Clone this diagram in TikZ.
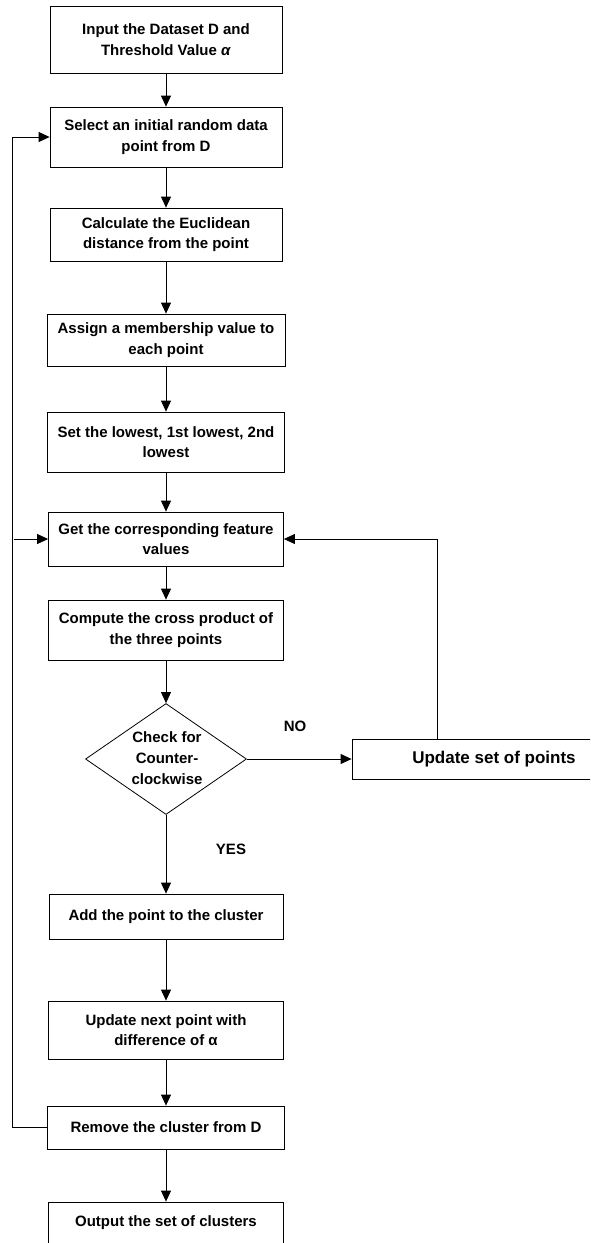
\documentclass[tikz,border=0pt]{standalone}
\usepackage{fontspec}
\setmainfont{Liberation Sans}
\usetikzlibrary{arrows.meta,shapes.geometric}
\begin{document}
\begin{tikzpicture}[x=1pt,y=-1pt,
  box/.style={draw, line width=0.8pt, align=center, inner sep=0pt,
    font=\bfseries\fontsize{15}{20.7}\selectfont},
  lbl/.style={font=\bfseries\fontsize{15}{18}\selectfont, inner sep=0pt},
  arr/.style={-{Triangle[length=11pt,width=10pt]}, line width=0.8pt}]
\useasboundingbox (0,0) rectangle (590,1243);
\clip (0,0) rectangle (590,1243);

\node[box, minimum width=232pt, minimum height=67pt] (n1) at (166,39.5) {Input the Dataset D and\\Threshold Value \textit{α}};
\node[box, minimum width=232pt, minimum height=60pt] (n2) at (166,137) {Select an initial random data\\point from D};
\node[box, minimum width=232pt, minimum height=53pt] (n3) at (166,234.5) {Calculate the Euclidean\\distance from the point};
\node[box, minimum width=238pt, minimum height=52pt] (n4) at (166,340) {Assign a membership value to\\each point};
\node[box, minimum width=237pt, minimum height=60pt] (n5) at (166,442) {Set the lowest, 1st lowest, 2nd\\lowest};
\node[box, minimum width=235pt, minimum height=54pt] (n6) at (166,539) {Get the corresponding feature\\values};
\node[box, minimum width=235pt, minimum height=60pt] (n7) at (166,630) {Compute the cross product of\\the three points};
\node[diamond, draw, line width=0.8pt, minimum width=161pt, minimum height=111pt, inner sep=0pt] (d) at (166,759) {};
\node[box, draw=none] (dt) at (167,758) {Check for\\Counter-\\clockwise};
\node[box, minimum width=284pt, minimum height=40pt, font=\bfseries\fontsize{17}{20}\selectfont] (upd) at (494,759) {Update set of points};
\node[box, minimum width=234pt, minimum height=45pt] (n8) at (166,916.5) {Add the point to the cluster};
\node[box, minimum width=235pt, minimum height=58pt] (n9) at (166,1030) {Update next point with\\difference of α};
\node[box, minimum width=237pt, minimum height=43pt] (n10) at (166,1127.5) {Remove the cluster from D};
\node[box, minimum width=235pt, minimum height=41.5pt] (n11) at (166,1222.75) {Output the set of clusters};

\node[lbl] (no) at (295,726) {NO};
\node[lbl] (yes) at (231,849) {YES};

\draw[arr] (n1) -- (n2);
\draw[arr] (n2) -- (n3);
\draw[arr] (n3) -- (n4);
\draw[arr] (n4) -- (n5);
\draw[arr] (n5) -- (n6);
\draw[arr] (n6) -- (n7);
\draw[arr] (n7) -- (d);
\draw[arr] (d) -- (upd);
\draw[arr] (d) -- (n8);
\draw[arr] (n8) -- (n9);
\draw[arr] (n9) -- (n10);
\draw[arr] (n10) -- (n11);
\draw[arr] ([xshift=85.7pt]upd.north west) |- (n6.east);
\coordinate (lj) at (13.7,539);
\draw[arr] (n10.west) -- ++(-34.3,0) |- (n2.west);
\draw[arr] (lj) -- (n6.west);
\end{tikzpicture}
\end{document}
